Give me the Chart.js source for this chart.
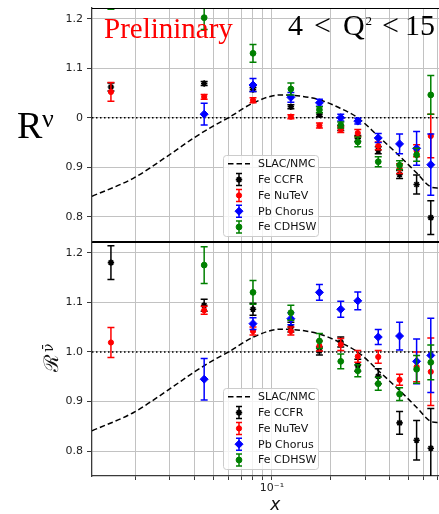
<!DOCTYPE html>
<html>
<head>
<meta charset="utf-8">
<script src="https://cdn.jsdelivr.net/npm/chart.js@4.4.0/dist/chart.umd.min.js"></script>
<style>
  html, body { margin: 0; padding: 0; background: #fff; overflow: hidden; }
  #wrap { position: relative; width: 439px; height: 514px; overflow: hidden; }
  canvas { position: absolute; left: 0; }
  #upper { top: 0; }
  #lower { top: 235px; }
</style>
</head>
<body>
<div id="wrap">
  <canvas id="upper" width="464" height="247"></canvas>
  <canvas id="lower" width="464" height="279"></canvas>
</div>
<script>
// x bins shared by all experiments
const xBins = [0.015, 0.045, 0.08, 0.125, 0.175, 0.225, 0.275, 0.35, 0.45, 0.55, 0.65];
const xRange = [0.012, 0.9];

// neutrino ratios (upper panel)
const ccfrNu      = [1.062, 1.069, 1.057, 1.022, 1.006, 0.979, 0.958, 0.934, 0.885, 0.865, 0.798];
const ccfrNuErr   = [0.008, 0.004, 0.004, 0.004, 0.004, 0.005, 0.006, 0.007, 0.008, 0.019, 0.034];
const nutevNu     = [1.052, 1.042, 1.035, 1.002, 0.984, 0.976, 0.969, 0.943, 0.897, 0.933, 0.963];
const nutevNuErr  = [0.019, 0.005, 0.005, 0.004, 0.005, 0.006, 0.007, 0.008, 0.010, 0.012, 0.044];
const chorusNu    = [null, 1.007, 1.066, 1.041, 1.030, 1.000, 0.993, 0.959, 0.947, 0.938, 0.905];
const chorusNuErr = [0, 0.022, 0.013, 0.010, 0.007, 0.007, 0.006, 0.009, 0.020, 0.034, 0.062];
const cdhswNu     = [1.260, 1.202, 1.130, 1.058, 1.016, 0.985, 0.951, 0.911, 0.904, 0.925, 1.046];
const cdhswNuErr  = [0.041, 0.024, 0.018, 0.012, 0.006, 0.006, 0.010, 0.010, 0.009, 0.013, 0.039];

// antineutrino ratios (lower panel)
const ccfrNub      = [1.180, 1.094, 1.086, 1.050, 1.002, 1.020, 0.973, 0.951, 0.857, 0.822, 0.806];
const ccfrNubErr   = [0.034, 0.012, 0.012, 0.010, 0.008, 0.010, 0.012, 0.015, 0.023, 0.040, 0.080];
const nutevNub     = [1.019, 1.084, 1.042, 1.042, 1.012, 1.015, 0.991, 0.990, 0.944, 0.970, 0.960];
const nutevNubErr  = [0.030, 0.008, 0.008, 0.008, 0.010, 0.012, 0.012, 0.013, 0.011, 0.030, 0.068];
const chorusNub    = [null, 0.945, 1.057, 1.067, 1.120, 1.086, 1.103, 1.030, 1.032, 0.981, 0.993];
const chorusNubErr = [0, 0.042, 0.012, 0.012, 0.016, 0.016, 0.018, 0.015, 0.028, 0.045, 0.075];
const cdhswNub     = [null, 1.175, 1.120, 1.079, 1.022, 0.981, 0.962, 0.936, 0.915, 0.965, 0.979];
const cdhswNubErr  = [0, 0.037, 0.024, 0.015, 0.015, 0.015, 0.012, 0.013, 0.013, 0.028, 0.035];

// SLAC/NMC parametrisation
const slacX = [0.012, 0.0196, 0.029, 0.0397, 0.050, 0.060, 0.0805, 0.110, 0.1395, 0.1766, 0.2235, 0.277, 0.351, 0.443, 0.551, 0.644, 0.70, 0.75];
const slacY = [0.841, 0.878, 0.9215, 0.9586, 0.983, 1.000, 1.030, 1.0457, 1.0437, 1.0356, 1.019, 0.9988, 0.962, 0.925, 0.888, 0.861, 0.858, 0.862];
const unity = [1, 1];

// axes
const yRange = [0.75, 1.2215];
const yTicks = [0.8, 0.9, 1.0, 1.1, 1.2];
const yTickLabels = ['0.8', '0.9', '1.0', '1.1', '1.2'];
const xGrid = [0.02, 0.03, 0.04, 0.05, 0.06, 0.07, 0.08, 0.09, 0.1, 0.2, 0.3, 0.4, 0.5, 0.6, 0.7, 0.8, 0.9];
const xLabelTicks = [0.1];
const xLabelText = ['10\u207B\u00B9'];

const GRID = '#c2c2c2';
const AXIS = '#3a3a3a';

function points(vals, errs) {
  return xBins.map((x, i) => ({x: x, y: vals[i], err: errs[i]})).filter(p => p.y !== null);
}

function errorSet(label, color, style, radius, vals, errs, order) {
  return {
    label: label,
    data: points(vals, errs),
    errorBars: true,
    borderColor: color,
    backgroundColor: color,
    pointStyle: style,
    pointRadius: radius,
    pointBorderWidth: style === 'star' ? 1.6 : 1,
    order: order,
    clip: 0
  };
}

function buildDatasets(ccfr, ccfrErr, nutev, nutevErr, chorus, chorusErr, cdhsw, cdhswErr) {
  return [
    {
      label: 'SLAC/NMC',
      data: slacX.map((x, i) => ({x: x, y: slacY[i]})),
      showLine: true,
      borderColor: '#000',
      borderWidth: 1.5,
      borderDash: [5.5, 3],
      pointRadius: 0,
      cubicInterpolationMode: 'monotone',
      order: 6,
      clip: 0
    },
    {
      data: xRange.map((x, i) => ({x: x, y: unity[i]})),
      showLine: true,
      borderColor: '#000',
      borderWidth: 1.5,
      borderDash: [1.5, 2.5],
      pointRadius: 0,
      order: 7,
      clip: 0
    },
    errorSet('Fe CCFR', '#000000', 'star', 3.2, ccfr, ccfrErr, 4),
    errorSet('Fe NuTeV', '#ff0000', 'circle', 2.6, nutev, nutevErr, 3),
    errorSet('Pb Chorus', '#0000ff', 'rectRot', 4, chorus, chorusErr, 2),
    errorSet('Fe CDHSW', '#008000', 'circle', 2.9, cdhsw, cdhswErr, 1)
  ];
}

// vertical error bars with caps, drawn under each dataset's markers
const errorBars = {
  id: 'errorBars',
  beforeDatasetDraw(chart, args) {
    const ds = chart.data.datasets[args.index];
    if (!ds.errorBars) return;
    const {ctx, chartArea: a, scales: {x, y}} = chart;
    ctx.save();
    ctx.beginPath();
    ctx.rect(a.left, a.top, a.right - a.left, a.bottom - a.top);
    ctx.clip();
    ctx.strokeStyle = ds.borderColor;
    ctx.lineWidth = 1.5;
    ds.data.forEach(p => {
      const px = x.getPixelForValue(p.x);
      const lo = y.getPixelForValue(p.y - p.err);
      const hi = y.getPixelForValue(p.y + p.err);
      ctx.beginPath();
      ctx.moveTo(px, lo); ctx.lineTo(px, hi);
      ctx.moveTo(px - 3.5, lo); ctx.lineTo(px + 3.5, lo);
      ctx.moveTo(px - 3.5, hi); ctx.lineTo(px + 3.5, hi);
      ctx.stroke();
    });
    ctx.restore();
  }
};

// top frame line of each panel
const frameTop = {
  id: 'frameTop',
  afterDatasetsDraw(chart) {
    const {ctx, chartArea: a} = chart;
    ctx.save();
    ctx.strokeStyle = '#000';
    ctx.lineWidth = 1;
    ctx.beginPath();
    ctx.moveTo(a.left, a.top + 0.5);
    ctx.lineTo(a.right, a.top + 0.5);
    ctx.stroke();
    ctx.restore();
  }
};

// framed legend placed inside the plot
const boxLegend = {
  id: 'boxLegend',
  afterDatasetsDraw(chart, args, opts) {
    const ctx = chart.ctx;
    const left = opts.left, top = opts.top;
    ctx.save();
    ctx.fillStyle = 'rgba(255,255,255,0.8)';
    ctx.strokeStyle = '#cccccc';
    ctx.lineWidth = 1;
    ctx.beginPath();
    ctx.roundRect(left + 0.5, top + 0.5, 95, 81, 3);
    ctx.fill();
    ctx.stroke();
    ctx.font = '11px "DejaVu Sans"';
    ctx.textBaseline = 'middle';
    chart.data.datasets.filter(d => d.label).forEach((d, i) => {
      const cy = top + 8.8 + i * 15.8;
      const cx = left + 16;
      ctx.strokeStyle = d.borderColor;
      ctx.fillStyle = d.borderColor;
      ctx.lineWidth = 1.5;
      if (d.errorBars) {
        ctx.beginPath();
        ctx.moveTo(cx, cy - 6); ctx.lineTo(cx, cy + 6);
        ctx.moveTo(cx - 3, cy - 6); ctx.lineTo(cx + 3, cy - 6);
        ctx.moveTo(cx - 3, cy + 6); ctx.lineTo(cx + 3, cy + 6);
        ctx.stroke();
        ctx.lineWidth = d.pointBorderWidth;
        Chart.helpers.drawPoint(ctx, {pointStyle: d.pointStyle, radius: d.pointRadius, borderWidth: d.pointBorderWidth, rotation: 0}, cx, cy);
      } else {
        ctx.setLineDash(d.borderDash);
        ctx.beginPath();
        ctx.moveTo(left + 5, cy); ctx.lineTo(left + 27, cy);
        ctx.stroke();
        ctx.setLineDash([]);
      }
      ctx.fillStyle = '#111';
      ctx.fillText(d.label, left + 35, cy + 0.5);
    });
    ctx.restore();
  }
};

// titles of the upper panel
const upperLabels = {
  id: 'upperLabels',
  afterDraw(chart) {
    const ctx = chart.ctx;
    ctx.save();
    ctx.fillStyle = '#ffffff';
    ctx.fillRect(6, 100, 70, 44);
    ctx.fillStyle = '#000';
    ctx.textBaseline = 'alphabetic';
    ctx.font = '38px "Liberation Serif"';
    ctx.fillText('R', 17, 138);
    ctx.font = '26px "Liberation Serif"';
    ctx.fillText('\u03BD', 42, 127);

    ctx.fillStyle = '#ff0000';
    ctx.font = '29px "Liberation Serif"';
    ctx.fillText('Prelininary', 104, 38);

    ctx.fillStyle = '#000';
    ctx.font = '30px "Liberation Serif"';
    ctx.fillText('4', 288, 35);
    ctx.fillText('<', 314, 35);
    ctx.fillText('Q', 343, 35);
    ctx.fillText('<', 382, 35);
    ctx.fillText('15', 405, 35);
    ctx.font = '13px "Liberation Serif"';
    ctx.fillText('2', 365.5, 25);
    ctx.restore();
  }
};

// rotated y title of the lower panel
const lowerLabels = {
  id: 'lowerLabels',
  afterDraw(chart) {
    const ctx = chart.ctx;
    ctx.save();
    ctx.translate(51, 119);
    ctx.rotate(-Math.PI / 2);
    ctx.fillStyle = '#111';
    ctx.textBaseline = 'alphabetic';
    ctx.font = '20px "DejaVu Serif"';
    ctx.fillText('\u211B', -18, 7);
    ctx.font = '14px "DejaVu Serif"';
    ctx.fillText('\u03BD\u0304', 2, 2);
    ctx.restore();
  }
};

function yScale() {
  return {
    type: 'linear',
    min: yRange[0],
    max: yRange[1],
    afterBuildTicks: s => { s.ticks = yTicks.map(v => ({value: v})); },
    afterFit: s => { s.width = 92; s.paddingTop = 0; s.paddingBottom = 0; },
    grid: { color: GRID, lineWidth: 1, drawTicks: true, tickLength: 5, tickColor: AXIS, tickWidth: 1 },
    border: { color: AXIS, width: 1.3 },
    ticks: {
      padding: 4,
      color: '#222',
      font: { family: 'DejaVu Sans', size: 11 },
      callback: v => yTickLabels[yTicks.indexOf(v)]
    }
  };
}

function makePanel(id, datasets, lower, legendTop, labels) {
  const xScale = {
    type: 'logarithmic',
    min: xRange[0],
    max: xRange[1],
    afterBuildTicks: s => { s.ticks = xGrid.map(v => ({value: v})); },
    grid: { color: GRID, lineWidth: 1, drawTicks: lower, tickLength: 4, tickColor: AXIS, tickWidth: 1 },
    border: { color: lower ? AXIS : '#000', width: lower ? 1.3 : 1 },
    ticks: {
      display: lower,
      autoSkip: false,
      maxRotation: 0,
      padding: 2,
      color: '#222',
      font: { family: 'DejaVu Sans', size: 11 },
      callback: v => { const i = xLabelTicks.indexOf(v); return i >= 0 ? xLabelText[i] : ''; }
    },
    title: {
      display: lower,
      text: 'x',
      color: '#111',
      font: { family: 'DejaVu Sans', size: 17, style: 'italic', lineHeight: 1 },
      padding: { top: 0, bottom: 0 }
    },
    afterFit: s => { s.height = lower ? 38 : 0; s.paddingLeft = 0; s.paddingRight = 0; }
  };
  return new Chart(document.getElementById(id), {
    type: 'scatter',
    data: { datasets: datasets },
    options: {
      responsive: false,
      animation: false,
      layout: { padding: { top: lower ? 7 : 8, bottom: lower ? 0 : 2, left: 0, right: 0 } },
      plugins: {
        legend: { display: false },
        tooltip: { enabled: false },
        boxLegend: { left: 223, top: legendTop }
      },
      scales: { x: xScale, y: yScale() }
    },
    plugins: [errorBars, frameTop, boxLegend, labels]
  });
}

makePanel('upper',
  buildDatasets(ccfrNu, ccfrNuErr, nutevNu, nutevNuErr, chorusNu, chorusNuErr, cdhswNu, cdhswNuErr),
  false, 155, upperLabels);
makePanel('lower',
  buildDatasets(ccfrNub, ccfrNubErr, nutevNub, nutevNubErr, chorusNub, chorusNubErr, cdhswNub, cdhswNubErr),
  true, 153, lowerLabels);
</script>
</body>
</html>
